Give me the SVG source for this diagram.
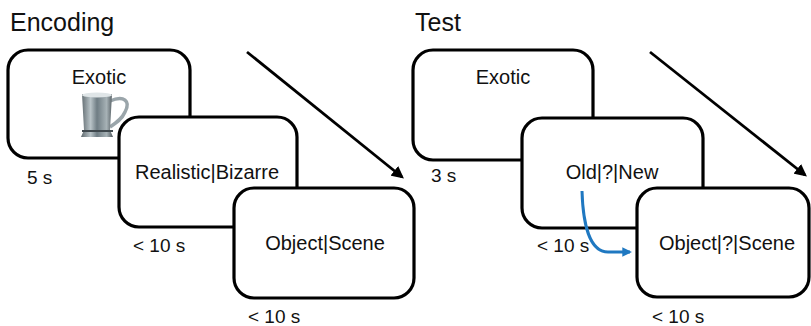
<svg xmlns="http://www.w3.org/2000/svg" width="811" height="326" viewBox="0 0 811 326">
<style>
.box{fill:#fff;stroke:#000;stroke-width:3.2}
.t{font-family:"Liberation Sans",Arial,sans-serif;font-size:20px;fill:#111}
.s{font-family:"Liberation Sans",Arial,sans-serif;font-size:19px;fill:#111}
.h{font-family:"Liberation Sans",Arial,sans-serif;font-size:25px;fill:#111}
.arr{stroke:#000;stroke-width:2.8;fill:none}
</style>
<defs>
<marker id="ah" viewBox="0 0 10 10" refX="8" refY="5" markerWidth="4.4" markerHeight="4.4" orient="auto"><path d="M0,0 L10,5 L0,10 z" fill="#000"/></marker>
<marker id="bh" viewBox="0 0 10 10" refX="8" refY="5" markerWidth="3.2" markerHeight="3.2" orient="auto"><path d="M0,0 L10,5 L0,10 z" fill="#1f78c1"/></marker>
<linearGradient id="mug" x1="0" x2="1" y1="0" y2="0">
<stop offset="0" stop-color="#5d676c"/><stop offset="0.3" stop-color="#b9c4c8"/><stop offset="0.5" stop-color="#6f7d84"/><stop offset="0.8" stop-color="#a7b2b6"/><stop offset="1" stop-color="#4d565b"/>
</linearGradient>
</defs>
<text class="h" x="10" y="31">Encoding</text>
<text class="h" x="415" y="31">Test</text>
<g id="connectors">
<line class="arr" x1="247" y1="52" x2="402" y2="177" marker-end="url(#ah)"/>
<line class="arr" x1="650" y1="52" x2="805" y2="175" marker-end="url(#ah)"/>
</g>
<g id="enc1">
<rect class="box" x="8" y="50" width="182" height="108" rx="20"/>
<text class="t" x="99" y="84" text-anchor="middle">Exotic</text>
<g id="mugimg">
<path d="M110,101 C124,95 131,101 125,112 C122,119 116,123 110,127" fill="none" stroke="#9aa5aa" stroke-width="3.5"/>
<path d="M82,94 L112,94 L110,130 L113,137 L81,137 L84,130 Z" fill="url(#mug)"/>
<ellipse cx="97" cy="95" rx="15" ry="2.5" fill="#dfe5e7"/>
<rect x="82" y="130" width="31" height="2" fill="#3e474c"/>
</g>
<text class="s" x="27" y="184">5 s</text>
</g>
<g id="enc2">
<rect class="box" x="119" y="117" width="178" height="110" rx="20"/>
<text class="t" x="207" y="179" text-anchor="middle">Realistic|Bizarre</text>
<text class="s" x="133" y="252">&lt; 10 s</text>
</g>
<g id="enc3">
<rect class="box" x="234" y="188" width="180" height="110" rx="20"/>
<text class="t" x="325" y="250" text-anchor="middle">Object|Scene</text>
<text class="s" x="248" y="323">&lt; 10 s</text>
</g>
<g id="test1">
<rect class="box" x="413" y="50" width="180" height="110" rx="20"/>
<text class="t" x="503" y="84" text-anchor="middle">Exotic</text>
<text class="s" x="431" y="182">3 s</text>
</g>
<g id="test2">
<rect class="box" x="522" y="118" width="181" height="110" rx="20"/>
<text class="t" x="612" y="179" text-anchor="middle">Old|?|New</text>
<text class="s" x="537" y="252">&lt; 10 s</text>
</g>
<g id="test3">
<rect class="box" x="637" y="188" width="172" height="109" rx="20"/>
<text class="t" x="727" y="250" text-anchor="middle">Object|?|Scene</text>
<text class="s" x="652" y="323">&lt; 10 s</text>
</g>
<g id="blue">
<path d="M582,191 C583,225 590,252 608,252 L630,252" fill="none" stroke="#1f78c1" stroke-width="3" marker-end="url(#bh)"/>
</g>
</svg>
